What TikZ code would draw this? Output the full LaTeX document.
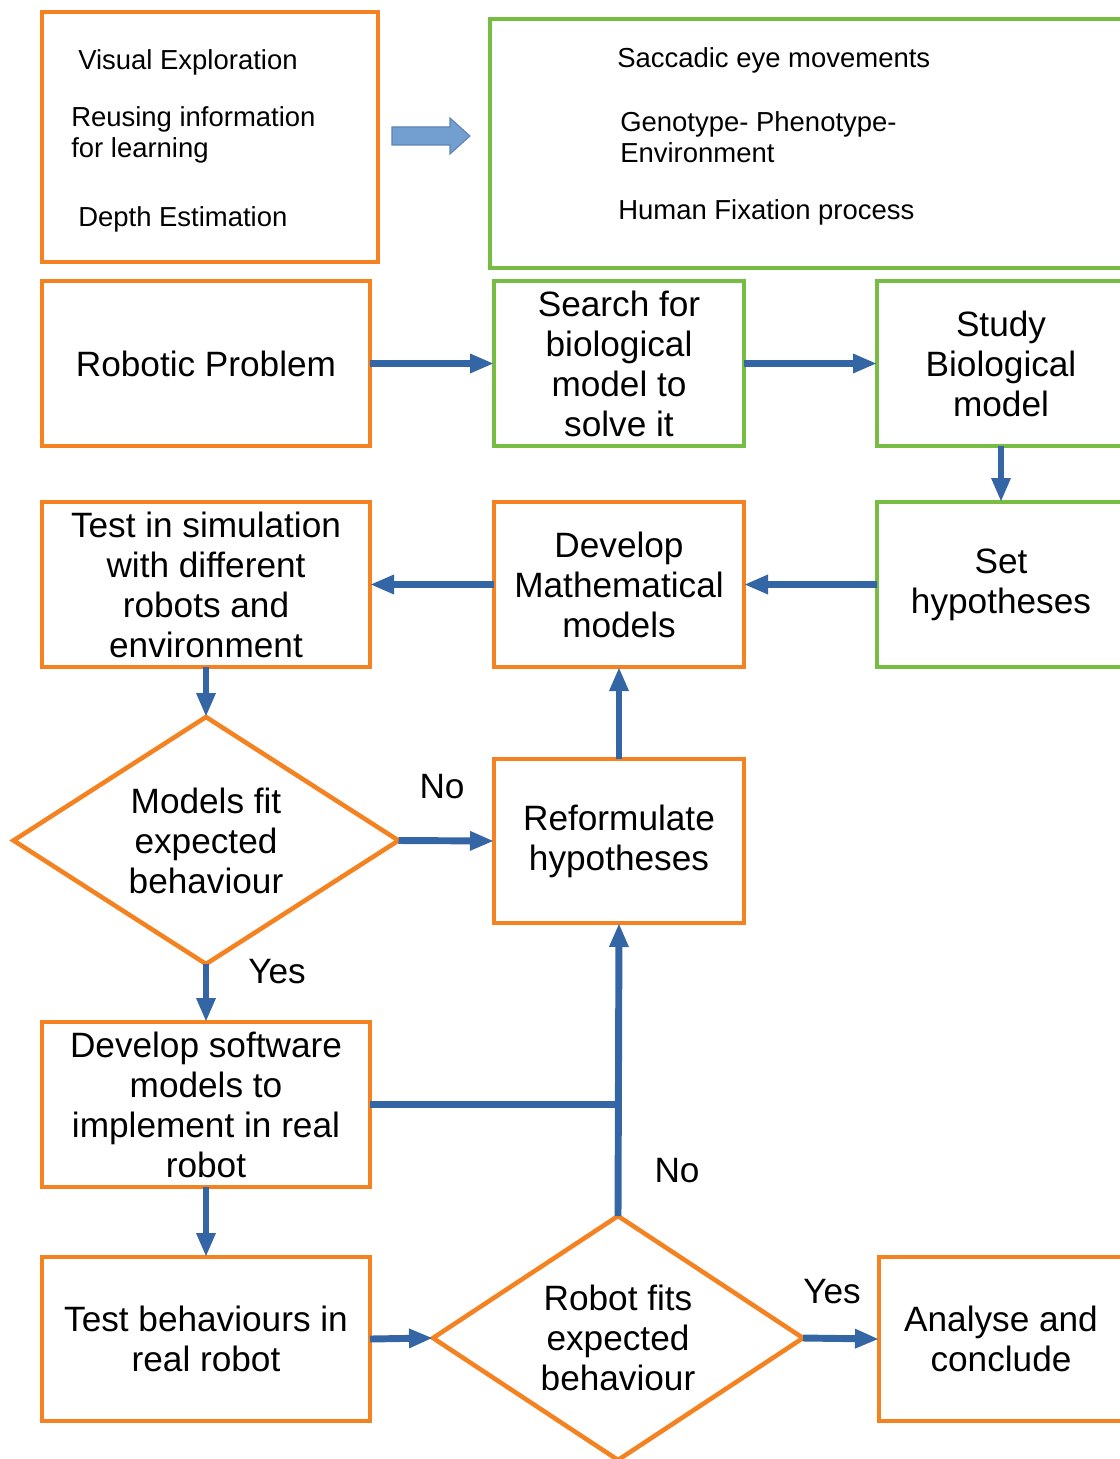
\documentclass[tikz,border=0pt]{standalone}
\usepackage{fontspec}
\setmainfont{Liberation Sans}
\usetikzlibrary{shapes.geometric,arrows.meta}

\definecolor{boxorange}{RGB}{245,130,32}
\definecolor{boxgreen}{RGB}{119,188,67}
\definecolor{flowblue}{RGB}{52,101,164}
\definecolor{lightblue}{RGB}{114,159,207}

\tikzset{
  base/.style={line width=3.4pt, outer sep=0pt, inner sep=0pt, align=center,
    font=\fontsize{26.4pt}{30pt}\selectfont},
  obox/.style={base, draw=boxorange, rectangle},
  gbox/.style={base, draw=boxgreen, rectangle},
  odiam/.style={base, draw=boxorange, diamond},
  flow/.style={draw=flowblue, line width=5.2pt,
    -{Triangle[length=18pt,width=13.5pt]}},
  link/.style={draw=flowblue, line width=5.2pt},
  small/.style={anchor=west, align=left, inner sep=0pt,
    font=\fontsize{20.6pt}{23.3pt}\selectfont},
  lbl/.style={inner sep=0pt, font=\fontsize{26.4pt}{30pt}\selectfont}
}

\begin{document}
\begin{tikzpicture}[x=0.75pt,y=-0.75pt]
\useasboundingbox (0,0) rectangle (1120,1459);
\clip (0,0) rectangle (1120,1459);

% top row: problem areas and biological topics
\node[obox, minimum width=252pt, minimum height=187.5pt] (areas) at (210,137) {};
\node[gbox, minimum width=483.75pt, minimum height=186.75pt] (topics) at (812.5,143.5) {};
\node[small] (t1) at (78,62) {Visual Exploration};
\node[small] (t2) at (71,134.5) {Reusing information\\for learning};
\node[small] (t3) at (78,219) {Depth Estimation};
\node[small] (t4) at (617,60) {Saccadic eye movements};
\node[small] (t5) at (620,137) {Genotype- Phenotype-\\Environment};
\node[small] (t6) at (618,212) {Human Fixation process};

% block arrow between the two top boxes
\filldraw[fill=lightblue, draw=flowblue!80, line width=0.8pt]
  (392,127) -- (450,127) -- (450,118) -- (470,136) -- (450,154) -- (450,145) -- (392,145) -- cycle;

% flow boxes
\node[obox, minimum width=246pt, minimum height=123.75pt] (robot) at (206,363.5) {Robotic Problem};
\node[gbox, minimum width=187.5pt, minimum height=123.75pt] (search) at (619,363.5) {Search for\\biological\\model to\\solve it};
\node[gbox, minimum width=186pt, minimum height=123.75pt] (study) at (1001,363.5) {Study\\Biological\\model};
\node[obox, minimum width=246pt, minimum height=123.75pt] (testsim) at (206,584.5) {Test in simulation\\with different\\robots and\\environment};
\node[obox, minimum width=187.5pt, minimum height=123.75pt] (devmath) at (619,584.5) {Develop\\Mathematical\\models};
\node[gbox, minimum width=186pt, minimum height=123.75pt] (sethyp) at (1001,584.5) {Set\\hypotheses\vphantom{Sp}};
\node[odiam, aspect=1.56, minimum width=288.75pt, minimum height=185.25pt] (fit1) at (206,840.5) {Models fit\\expected\\behaviour};
\node[obox, minimum width=187.5pt, minimum height=123pt] (reform) at (619,841) {Reformulate\\hypotheses\vphantom{Sp}};
\node[obox, minimum width=246pt, minimum height=123.75pt] (devsw) at (206,1104.5) {Develop software\\models to\\implement in real\\robot};
\node[obox, minimum width=246pt, minimum height=123pt] (testbeh) at (206,1339) {Test behaviours in\\real robot};
\node[odiam, aspect=1.52, minimum width=277.5pt, minimum height=183pt] (fit2) at (618,1338) {Robot fits\\expected\\behaviour};
\node[obox, minimum width=183pt, minimum height=123pt] (analyse) at (1001,1339) {Analyse and\\conclude};

% branch labels
\node[lbl] (no1) at (442,787) {No};
\node[lbl] (yes1) at (277,972) {Yes};
\node[lbl] (no2) at (677,1171) {No};
\node[lbl] (yes2) at (832,1292) {Yes};

% connectors
\draw[flow] (robot.east) -- (search.west);
\draw[flow] (search.east) -- (study.west);
\draw[flow] (study.south) -- (sethyp.north);
\draw[flow] (sethyp.west) -- (devmath.east);
\draw[flow] (devmath.west) -- (testsim.east);
\draw[flow] (testsim.south) -- (fit1.north);
\draw[flow] (fit1.east) -- (reform.west);
\draw[flow] (reform.north) -- (devmath.south);
\draw[flow] (fit1.south) -- (devsw.north);
\draw[link] (devsw.east) -- (devsw.east -| fit2.north);
\draw[flow] (fit2.north) -- (reform.south);
\draw[flow] (devsw.south) -- (testbeh.north);
\draw[flow] (testbeh.east) -- (fit2.west);
\draw[flow] (fit2.east) -- (analyse.west);
\end{tikzpicture}
\end{document}
